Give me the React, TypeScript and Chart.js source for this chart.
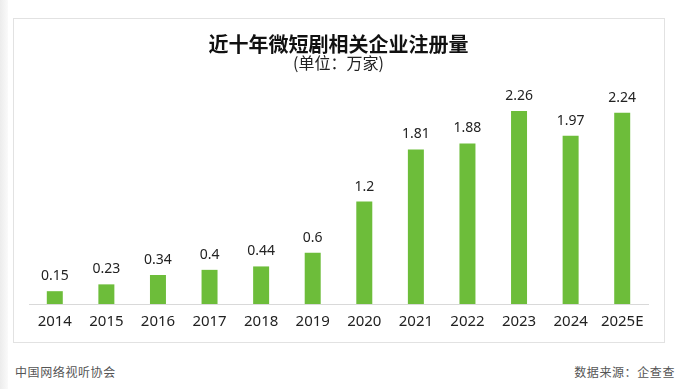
import React, { useEffect, useRef } from "react";
import { Chart, registerables } from "chart.js";

Chart.register(...registerables);

const titleText = "近十年微短剧相关企业注册量";
const subtitleText = "(单位：万家)";
const years = ["2014", "2015", "2016", "2017", "2018", "2019", "2020", "2021", "2022", "2023", "2024", "2025E"];
const registrations = [0.15, 0.23, 0.34, 0.4, 0.44, 0.6, 1.2, 1.81, 1.88, 2.26, 1.97, 2.24];
const footerLeft = "中国网络视听协会";
const footerRight = "数据来源：企查查";

const barColor = "#6dbd3a";
const fontFamily = '"Noto Sans", "Noto Sans CJK SC", sans-serif';

const valueLabels = {
  id: "valueLabels",
  afterDatasetsDraw(chart: any) {
    const ctx = chart.ctx;
    const meta = chart.getDatasetMeta(0);
    ctx.save();
    ctx.font = `14px ${fontFamily}`;
    ctx.fillStyle = "#222";
    ctx.textAlign = "center";
    ctx.textBaseline = "middle";
    meta.data.forEach((el: any, i: number) => {
      ctx.fillText(String(registrations[i]), el.x, el.y - 15);
    });
    ctx.restore();
  },
};

export default function App() {
  const ref = useRef<HTMLCanvasElement | null>(null);

  useEffect(() => {
    if (!ref.current) return;
    const chart = new Chart(ref.current, {
      type: "bar",
      data: {
        labels: years,
        datasets: [
          {
            data: registrations,
            backgroundColor: barColor,
            barPercentage: 0.62,
            categoryPercentage: 0.5,
          },
        ],
      },
      options: {
        animation: false,
        responsive: false,
        maintainAspectRatio: false,
        layout: { padding: { left: 16, right: 17, top: 0, bottom: 3 } },
        plugins: {
          legend: { display: false },
          tooltip: { enabled: false },
          title: {
            display: true,
            text: titleText,
            color: "#111",
            font: { family: '"Noto Sans CJK SC", sans-serif', size: 20, weight: "bold", lineHeight: 1 },
            padding: { top: 16, bottom: 0 },
          },
          subtitle: {
            display: true,
            text: subtitleText,
            color: "#222",
            font: { family: '"Noto Sans CJK SC", sans-serif', size: 16, lineHeight: 1 },
            padding: { top: 1, bottom: 11 },
          },
        },
        scales: {
          x: {
            grid: { display: false, drawTicks: false },
            border: { display: true, color: "#d9d9d9", width: 1 },
            ticks: {
              color: "#222",
              padding: 9,
              font: { family: fontFamily, size: 15, lineHeight: 1.2 },
              maxRotation: 0,
              autoSkip: false,
            },
          },
          y: {
            display: false,
            min: 0,
            max: 2.6,
          },
        },
      },
      plugins: [valueLabels],
    });
    return () => chart.destroy();
  }, []);

  return (
    <div style={{ position: "fixed", left: 0, top: 0, width: 692, height: 389, background: "#fff", overflow: "hidden" }}>
      <div style={{ position: "absolute", left: 0, top: 0, width: 8, height: 389, background: "linear-gradient(to right, #ececec, #fafafa)" }} />
      <div
        style={{
          position: "absolute",
          left: 13,
          top: 18,
          width: 652,
          height: 325,
          border: "1px solid #e2e2e2",
          boxSizing: "border-box",
          background: "#fff",
        }}
      />
      <canvas ref={ref} width={652} height={325} style={{ position: "absolute", left: 13, top: 18, width: 652, height: 325 }} />
      <div
        style={{
          position: "absolute",
          left: 15,
          top: 364,
          fontFamily: '"Noto Sans CJK SC", sans-serif',
          fontSize: 12,
          letterSpacing: 0.6,
          color: "#555",
          lineHeight: "16px",
        }}
      >
        {footerLeft}
      </div>
      <div
        style={{
          position: "absolute",
          right: 17,
          top: 364,
          fontFamily: '"Noto Sans CJK SC", sans-serif',
          fontSize: 12,
          letterSpacing: 0.6,
          color: "#555",
          lineHeight: "16px",
        }}
      >
        {footerRight}
      </div>
    </div>
  );
}
